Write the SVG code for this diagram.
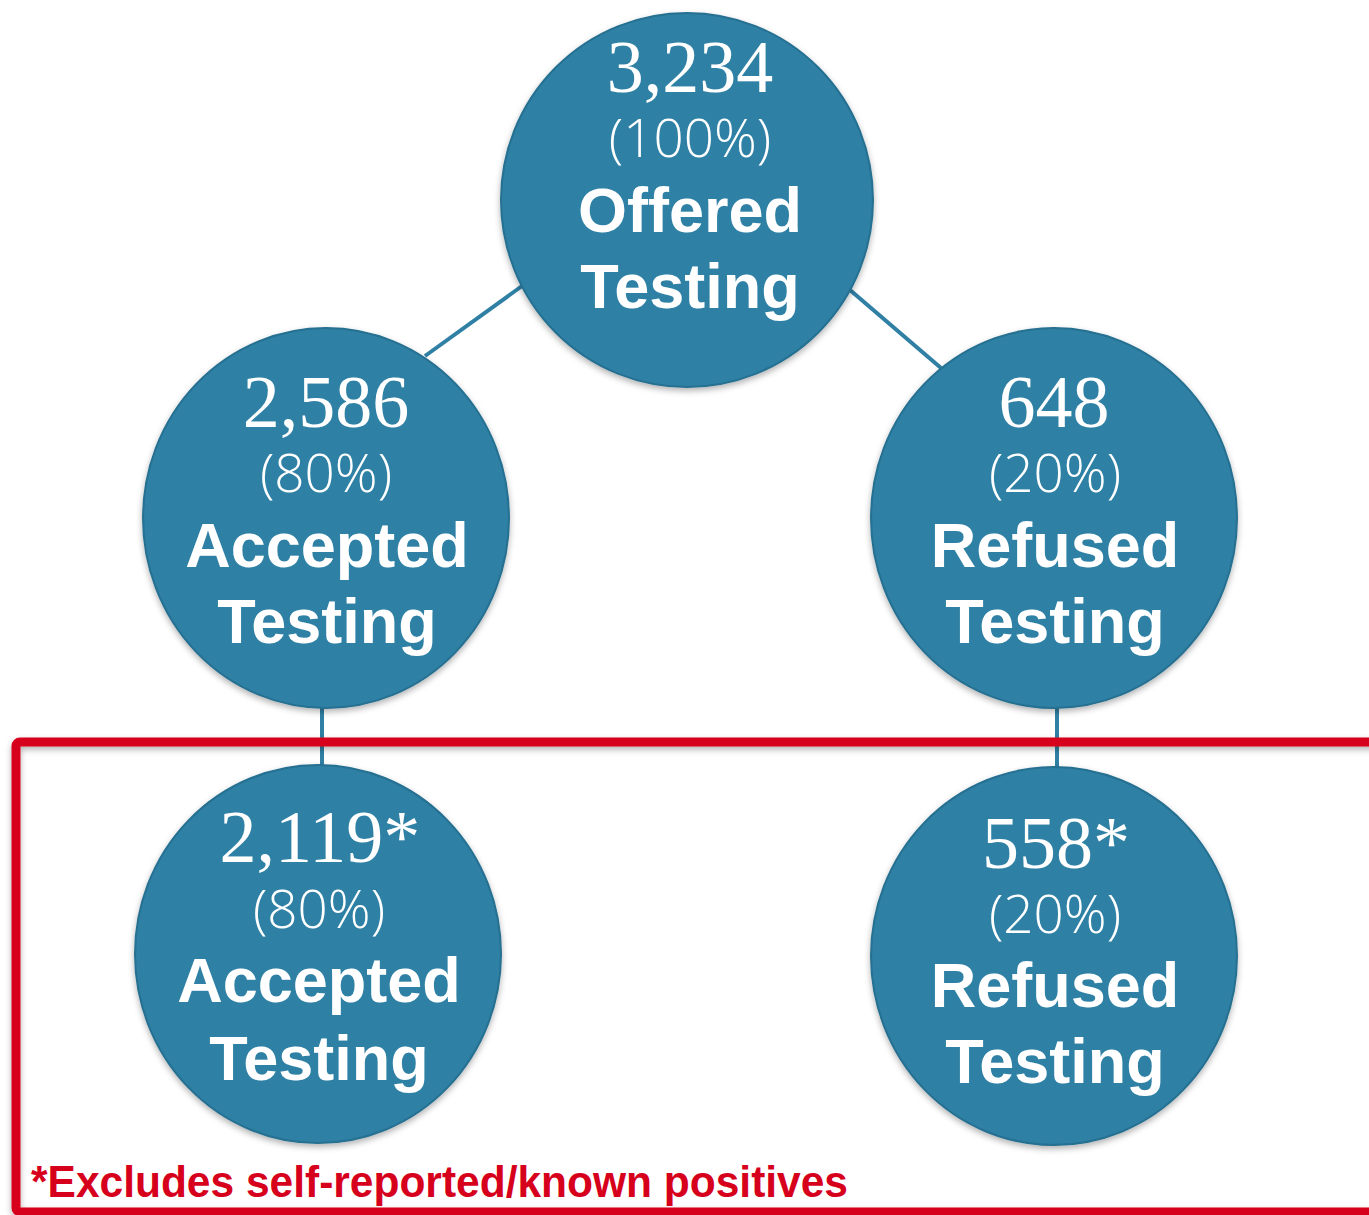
<svg xmlns="http://www.w3.org/2000/svg" width="1369" height="1215" viewBox="0 0 1369 1215">
<defs>
<filter id="sh" x="-10%" y="-10%" width="120%" height="125%">
<feDropShadow dx="0" dy="3" stdDeviation="3" flood-color="#000" flood-opacity="0.3"/>
</filter>
<style>
.node{fill:#2F80A4;stroke:#256F91;stroke-width:2;filter:url(#sh)}
.num{font-family:"Liberation Serif","Times New Roman",serif;font-size:74px;fill:#fff;text-anchor:middle}
.pct{font-family:"Open Sans","Liberation Sans",sans-serif;font-weight:300;font-size:53px;fill:#fff;text-anchor:middle}
.lbl{font-family:"Liberation Sans",Arial,sans-serif;font-weight:bold;font-size:63px;fill:#fff;text-anchor:middle}
.con{stroke:#2F80A4;stroke-width:4;fill:none}
.foot{font-family:"Liberation Sans",Arial,sans-serif;font-weight:bold;font-size:44px;fill:#D6001C}
</style>
</defs>
<rect width="1369" height="1215" fill="#fff"/>
<g id="connectors">
<line class="con" x1="425" y1="356" x2="522" y2="286"/>
<line class="con" x1="850" y1="290" x2="941" y2="368"/>
<line class="con" x1="322" y1="705" x2="322" y2="767"/>
<line class="con" x1="1057" y1="705" x2="1057" y2="770"/>
</g>
<g id="excluded-box">
<rect x="16" y="742" width="1380" height="470" rx="4" fill="none" stroke="#D6001C" stroke-width="9" filter="url(#sh)"/>
<text class="foot" x="31" y="1197" textLength="817" lengthAdjust="spacingAndGlyphs">*Excludes self-reported/known positives</text>
</g>
<g id="offered">
<ellipse class="node" cx="687" cy="200" rx="186" ry="187"/>
<text class="num" x="690" y="92">3,234</text>
<text class="pct" x="690" y="157">(100%)</text>
<text class="lbl" x="690" y="232">Offered</text>
<text class="lbl" x="690" y="308">Testing</text>
</g>
<g id="accepted">
<ellipse class="node" cx="326" cy="518" rx="183" ry="190"/>
<text class="num" x="326" y="427">2,586</text>
<text class="pct" x="326" y="492">(80%)</text>
<text class="lbl" x="327" y="567">Accepted</text>
<text class="lbl" x="327" y="643">Testing</text>
</g>
<g id="refused">
<ellipse class="node" cx="1054" cy="518" rx="183" ry="190"/>
<text class="num" x="1054" y="427">648</text>
<text class="pct" x="1055" y="492">(20%)</text>
<text class="lbl" x="1055" y="567">Refused</text>
<text class="lbl" x="1055" y="643">Testing</text>
</g>
<g id="accepted-excl">
<ellipse class="node" cx="318" cy="954" rx="183" ry="189"/>
<text class="num" x="320" y="862">2,119*</text>
<text class="pct" x="319" y="928">(80%)</text>
<text class="lbl" x="319" y="1002">Accepted</text>
<text class="lbl" x="319" y="1080">Testing</text>
</g>
<g id="refused-excl">
<ellipse class="node" cx="1054" cy="956" rx="183" ry="189"/>
<text class="num" x="1056" y="868">558*</text>
<text class="pct" x="1055" y="933">(20%)</text>
<text class="lbl" x="1055" y="1007">Refused</text>
<text class="lbl" x="1055" y="1083">Testing</text>
</g>
</svg>
